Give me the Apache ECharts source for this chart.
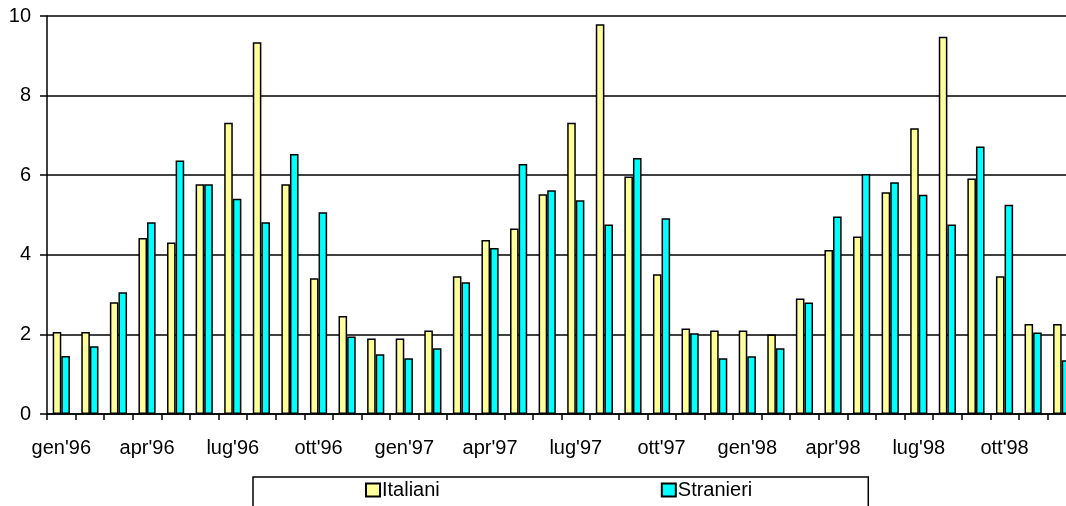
<!DOCTYPE html>
<html>
<head>
<meta charset="utf-8">
<script src="https://cdn.jsdelivr.net/npm/echarts@6/dist/echarts.min.js"></script>
<style>
html,body{margin:0;padding:0;background:#fff;overflow:hidden;width:1066px;height:506px;}
#chart{width:1076px;height:506px;}
</style>
</head>
<body>
<div id="chart"></div>
<script>
const months = ["gen'96","feb'96","mar'96","apr'96","mag'96","giu'96","lug'96","ago'96","set'96","ott'96","nov'96","dic'96",
"gen'97","feb'97","mar'97","apr'97","mag'97","giu'97","lug'97","ago'97","set'97","ott'97","nov'97","dic'97",
"gen'98","feb'98","mar'98","apr'98","mag'98","giu'98","lug'98","ago'98","set'98","ott'98","nov'98","dic'98"];
const italiani = [2.06,2.06,2.81,4.42,4.31,5.77,7.32,9.34,5.77,3.41,2.46,1.90,
1.90,2.10,3.46,4.37,4.66,5.52,7.32,9.79,5.97,3.51,2.15,2.10,
2.10,2.00,2.90,4.12,4.46,5.57,7.18,9.48,5.92,3.46,2.26,2.26];
const stranieri = [1.46,1.70,3.06,4.82,6.37,5.77,5.41,4.82,6.53,5.07,1.95,1.50,
1.40,1.65,3.31,4.17,6.28,5.62,5.37,4.76,6.43,4.92,2.03,1.40,
1.45,1.65,2.80,4.96,6.03,5.82,5.51,4.76,6.72,5.26,2.05,1.35];
const yTicks = [0,2,4,6,8,10];

const font = "'Liberation Sans', Arial, sans-serif";
const chart = echarts.init(document.getElementById('chart'), null, {renderer:'canvas'});
chart.setOption({
  animation:false,
  backgroundColor:'#ffffff',
  textStyle:{fontFamily:font, color:'#000'},
  grid:{left:47, right:0, top:16, bottom:92, containLabel:false},
  legend:{
    data:['Italiani','Stranieri'],
    left:253, top:477,
    padding:[3,116,30,112],
    itemGap:221,
    itemWidth:14, itemHeight:13,
    borderColor:'#000', borderWidth:1.5,
    icon:'rect',
    textStyle:{fontFamily:font, fontSize:20, color:'#000', padding:[0,0,0,-3]}
  },
  xAxis:{
    type:'category',
    data:months,
    boundaryGap:true,
    axisLine:{lineStyle:{color:'#000', width:1.5}},
    axisTick:{show:true, interval:0, length:6, lineStyle:{color:'#000', width:1.5}},
    axisLabel:{interval:2, margin:24, fontSize:20, color:'#000', fontFamily:font},
    splitLine:{show:false}
  },
  yAxis:{
    type:'value',
    min:yTicks[0], max:yTicks[yTicks.length-1], interval:2,
    axisLine:{show:true, lineStyle:{color:'#000', width:1.5}},
    axisTick:{show:true, length:7, lineStyle:{color:'#000', width:1.5}},
    axisLabel:{margin:16, fontSize:20, color:'#000', fontFamily:font},
    splitLine:{show:true, lineStyle:{color:'#000', width:1.6}}
  },
  series:[
    {name:'Italiani', type:'bar', data:italiani, barWidth:8.6, barGap:'0%',
     itemStyle:{color:'#FFFF99', borderColor:'#000', borderWidth:1.5}},
    {name:'Stranieri', type:'bar', data:stranieri, barWidth:8.6, barGap:'0%',
     itemStyle:{color:'#00FFFF', borderColor:'#000', borderWidth:1.5}}
  ]
});
</script>
</body>
</html>
